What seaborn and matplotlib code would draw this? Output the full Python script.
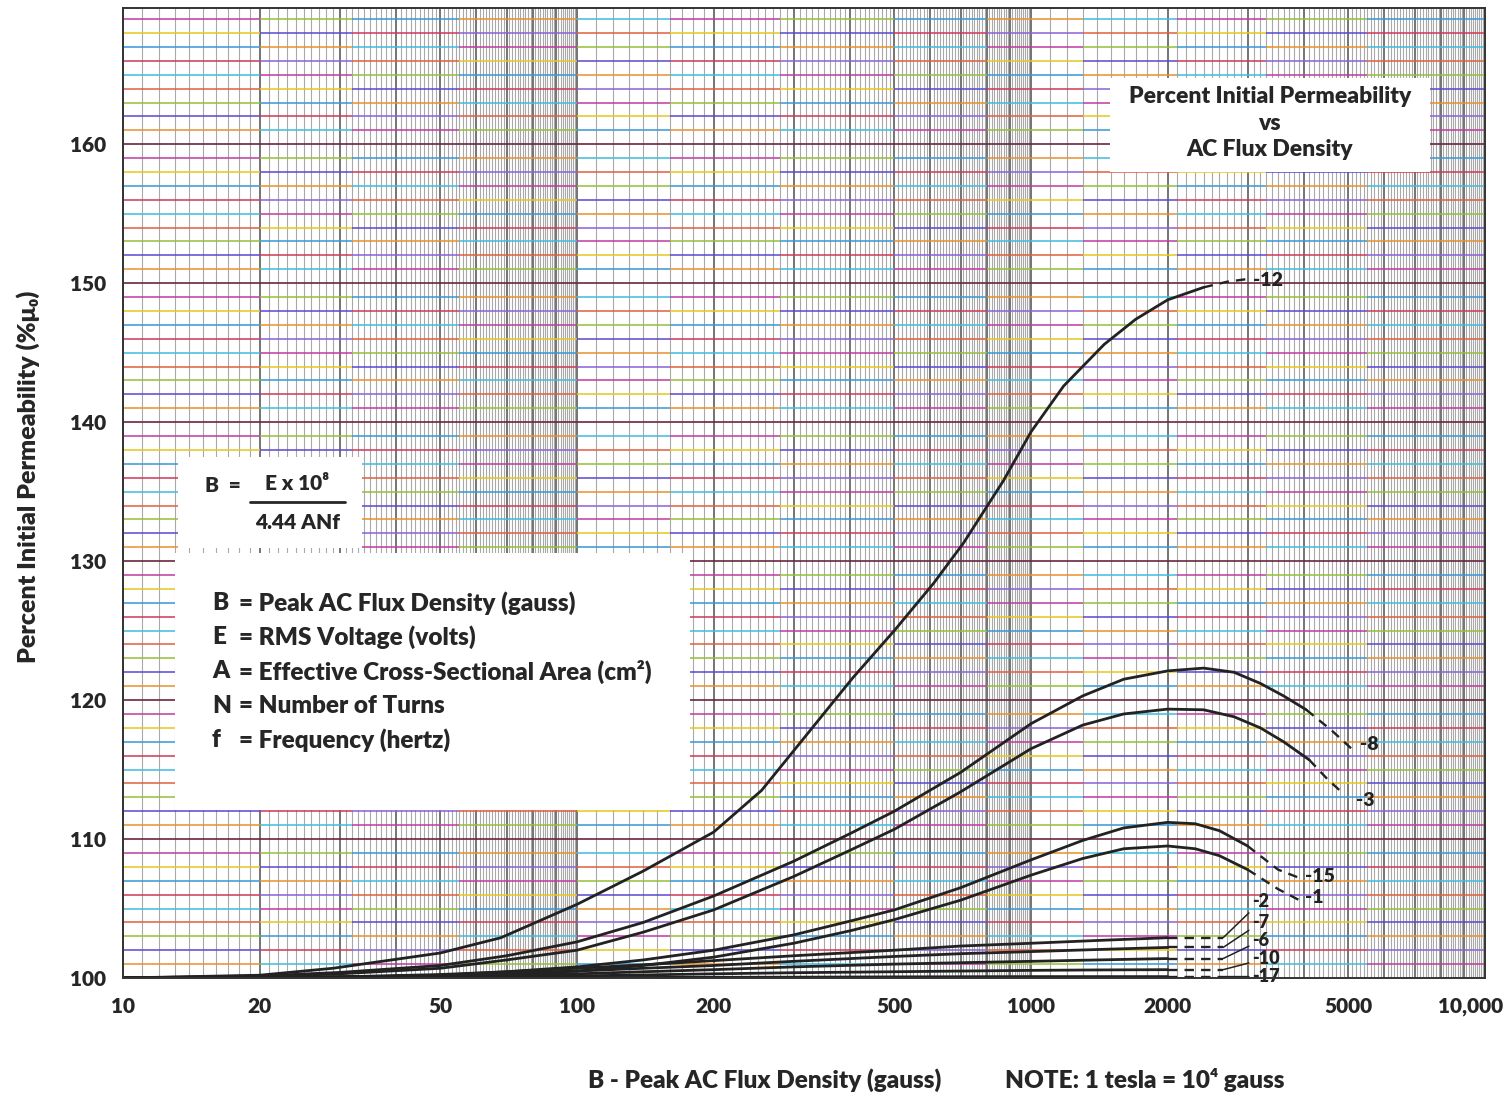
"""Percent initial permeability vs AC flux density (log graph paper style)."""

import matplotlib
matplotlib.use("Agg")
import matplotlib.pyplot as plt
import matplotlib.transforms as mtransforms
import numpy as np
import seaborn as sns
from matplotlib.patches import Rectangle
from matplotlib.ticker import FixedLocator, NullLocator

# ---- curve data (B in gauss, percent of initial permeability) ----
b_12 = [10, 20, 29, 50, 68, 100, 140, 200, 255, 315, 405, 500, 610, 710, 870, 1000,
        1180, 1450, 1700, 2000, 2400]
mu_12 = [100, 100.2, 100.7, 101.8, 102.9, 105.3, 107.7, 110.5, 113.5, 117.2, 121.6, 125,
         128.4, 131.3, 135.8, 139.3, 142.6, 145.6, 147.4, 148.8, 149.7]
b_12_dash = [2400, 2700, 3000]
mu_12_dash = [149.7, 150.1, 150.3]

b_8 = [10, 20, 30, 50, 70, 100, 140, 200, 300, 400, 500, 700, 1000, 1300, 1600, 2000,
       2400, 2800, 3200, 3600, 4040]
mu_8 = [100, 100.15, 100.4, 100.9, 101.6, 102.6, 104, 105.9, 108.4, 110.4, 112, 114.8,
        118.3, 120.3, 121.5, 122.1, 122.3, 122, 121.2, 120.3, 119.3]
b_8_dash = [4040, 4600, 5200]
mu_8_dash = [119.3, 117.8, 116.2]

b_3 = [10, 20, 30, 50, 70, 100, 140, 200, 300, 400, 500, 700, 1000, 1300, 1600, 2000,
       2400, 2800, 3200, 3600, 4100]
mu_3 = [100, 100.1, 100.3, 100.7, 101.3, 102, 103.3, 104.9, 107.3, 109.2, 110.7, 113.4,
        116.5, 118.2, 119, 119.35, 119.3, 118.8, 118, 117, 115.7]
b_3_dash = [4100, 4500, 4900]
mu_3_dash = [115.7, 114.3, 113.2]

b_15 = [10, 30, 50, 70, 100, 140, 200, 300, 400, 500, 700, 1000, 1300, 1600, 2000,
        2300, 2600, 3000]
mu_15 = [100, 100.05, 100.2, 100.45, 100.8, 101.3, 102, 103.1, 104.1, 104.9, 106.5,
         108.5, 109.9, 110.8, 111.2, 111.1, 110.6, 109.5]
b_15_dash = [3000, 3500, 3900]
mu_15_dash = [109.5, 107.8, 107.2]

b_1 = [10, 50, 100, 140, 200, 300, 400, 500, 700, 1000, 1300, 1600, 2000, 2300, 2600,
       3000]
mu_1 = [100, 100.15, 100.5, 100.9, 101.5, 102.5, 103.4, 104.2, 105.6, 107.4, 108.6,
        109.3, 109.5, 109.3, 108.8, 107.8]
b_1_dash = [3000, 3500, 3900]
mu_1_dash = [107.8, 106.4, 105.6]

b_low = [10, 20, 30, 50, 70, 100, 140, 200, 300, 500, 700, 1000, 1400, 2000]
mu_2 = [100, 100.02, 100.08, 100.25, 100.45, 100.7, 100.95, 101.25, 101.6, 102.0,
        102.3, 102.5, 102.7, 102.9]
mu_7 = [100, 100.01, 100.05, 100.18, 100.32, 100.5, 100.7, 100.9, 101.2, 101.55,
        101.75, 101.9, 102.05, 102.2]
mu_6 = [100, 100.0, 100.03, 100.1, 100.2, 100.3, 100.45, 100.6, 100.8, 101.0, 101.1,
        101.2, 101.3, 101.4]
mu_10 = [100, 100, 100.01, 100.04, 100.08, 100.15, 100.22, 100.3, 100.38, 100.45,
         100.5, 100.55, 100.58, 100.6]
mu_17 = [100, 100, 100, 100.01, 100.02, 100.03, 100.04, 100.05, 100.06, 100.08, 100.09,
         100.1, 100.1, 100.1]
b_low_dash = [2000, 2650]

# label anchors: (B, percent) for each curve label
label_at = {
    "-12": (3080, 150.2), "-8": (5300, 116.8), "-3": (5200, 112.8),
    "-15": (4020, 107.3), "-1": (4020, 105.8),
    "-2": (3070, 105.5), "-7": (3070, 104.0), "-6": (3070, 102.7),
    "-10": (3070, 101.4), "-17": (3070, 100.1),
}

x_ticks = [10, 20, 50, 100, 200, 500, 1000, 2000, 5000, 10000]
x_tick_labels = ["10", "20", "50", "100", "200", "500", "1000", "2000", "5000", "10,000"]
y_ticks = [100, 110, 120, 130, 140, 150, 160]

legend_rows = [
    ("B", "Peak AC Flux Density (gauss)"),
    ("E", "RMS Voltage (volts)"),
    ("A", "Effective Cross-Sectional Area (cm²)"),
    ("N", "Number of Turns"),
    ("f", "Frequency (hertz)"),
]

sns.set_theme(style="white")
plt.rcParams["font.family"] = ["Lato", "DejaVu Sans"]
W = "heavy"
TXT = "#262626"

fig = plt.figure(figsize=(15.11, 10.99), dpi=100)
ax = fig.add_axes([0.0814, 0.1101, 0.9014, 0.8826])
ax.set_xscale("log")
ax.set_xlim(10, 10000)
ax.set_ylim(100, 169.8)

# ---- graph paper: vertical log lines ----
for dec in [10, 100, 1000]:
    for k in range(10, 100):
        v = dec * k / 10
        if k % 10 == 0:
            ax.axvline(v, color="#333333", lw=1.2, alpha=0.8, zorder=1)
        else:
            ax.axvline(v, color="#555555", lw=0.8, alpha=0.5, zorder=1)

# ---- graph paper: coloured horizontal lines ----
paper_cols = ["#e8902c", "#e6c820", "#40bce0", "#5a48d0", "#c03aa0",
              "#d03858", "#94c03a", "#8a62d8", "#3898d8", "#e06040"]
seg_edges = [10, 20, 32, 55, 100, 160, 280, 500, 800, 1300, 2100, 3300, 5500, 10000]
for i, yv in enumerate(np.arange(101, 170)):
    if yv % 10 == 0:
        ax.axhline(yv, color="#6a2440", lw=1.4, alpha=0.85, zorder=1.2)
        continue
    for j in range(len(seg_edges) - 1):
        c = paper_cols[(i * 3 + j * 2) % len(paper_cols)]
        ax.hlines(yv, seg_edges[j], seg_edges[j + 1], color=c, lw=1.3, alpha=0.85,
                  zorder=1.1)

# ---- curves ----
ink = "#222222"
dash = (0, (4, 3))
solid = [(b_12, mu_12), (b_8, mu_8), (b_3, mu_3), (b_15, mu_15), (b_1, mu_1)]
for bs, ms in solid:
    sns.lineplot(x=bs, y=ms, ax=ax, color=ink, lw=2.0, sort=False, estimator=None,
                 zorder=5)
for bs, ms in [(b_12_dash, mu_12_dash), (b_8_dash, mu_8_dash), (b_3_dash, mu_3_dash),
               (b_15_dash, mu_15_dash), (b_1_dash, mu_1_dash)]:
    sns.lineplot(x=bs, y=ms, ax=ax, color=ink, lw=1.7, linestyle=dash, sort=False,
                 estimator=None, zorder=5)

low_curves = [("-2", mu_2), ("-7", mu_7), ("-6", mu_6), ("-10", mu_10), ("-17", mu_17)]
for name, ms in low_curves:
    sns.lineplot(x=b_low, y=ms, ax=ax, color=ink, lw=2.0, sort=False, estimator=None,
                 zorder=5)
    sns.lineplot(x=b_low_dash, y=[ms[-1], ms[-1]], ax=ax, color=ink, lw=1.7,
                 linestyle=dash, sort=False, estimator=None, zorder=5)
    lx, ly = label_at[name]
    ax.annotate(name, xy=(b_low_dash[-1], ms[-1]), xytext=(lx, ly), fontsize=13,
                fontweight=W, color=ink, va="center", ha="left", zorder=6,
                arrowprops=dict(arrowstyle="-", color=ink, lw=1.1, shrinkA=0,
                                shrinkB=0))

for name in ["-12", "-8", "-3", "-15", "-1"]:
    lx, ly = label_at[name]
    ax.text(lx, ly, name, fontsize=14, fontweight=W, color=ink, va="center",
            ha="left", zorder=6)


def white_box(x0, y0, w, h):
    ax.add_patch(Rectangle((x0, y0), w, h, transform=ax.transAxes,
                           facecolor="white", edgecolor="none", zorder=3))


# ---- title box ----
white_box(0.7247, 0.831, 0.2349, 0.097)
for txt, yy in [("Percent Initial Permeability", 0.909), ("vs", 0.881),
                ("AC Flux Density", 0.854)]:
    ax.text(0.842, yy, txt, transform=ax.transAxes, ha="center", va="center",
            fontsize=16.5, fontweight=W, color=TXT, zorder=4)

# ---- formula box ----
white_box(0.0404, 0.443, 0.135, 0.094)
ax.text(0.060, 0.508, "B  =", transform=ax.transAxes, ha="left", va="center",
        fontsize=15, fontweight=W, color=TXT, zorder=4)
ax.text(0.128, 0.510, "E x 10⁸", transform=ax.transAxes, ha="center", va="center",
        fontsize=15, fontweight=W, color=TXT, zorder=4)
ax.plot([0.093, 0.163], [0.491, 0.491], transform=ax.transAxes, color=TXT, lw=2.0,
        zorder=4)
ax.text(0.128, 0.470, "4.44 ANf", transform=ax.transAxes, ha="center", va="center",
        fontsize=15, fontweight=W, color=TXT, zorder=4)

# ---- definitions box ----
white_box(0.0382, 0.173, 0.378, 0.265)
for k, (sym, desc) in enumerate(legend_rows):
    yy = 0.3866 - k * 0.0353
    ax.text(0.0653, yy, sym, transform=ax.transAxes, ha="left", va="center",
            fontsize=17.5, fontweight=W, color=TXT, zorder=4)
    ax.text(0.0855, yy, "= " + desc, transform=ax.transAxes, ha="left", va="center",
            fontsize=17.5, fontweight=W, color=TXT, zorder=4)

# ---- axes styling ----
ax.xaxis.set_major_locator(FixedLocator(x_ticks))
ax.xaxis.set_minor_locator(NullLocator())
ax.set_xticklabels(x_tick_labels)
ax.set_yticks(y_ticks)
ax.tick_params(axis="x", direction="out", length=9, width=1.3, color="#333333",
               labelsize=15, pad=5)
ax.tick_params(axis="y", direction="out", length=7, width=1.3, color="#333333",
               labelsize=15, pad=5)
for lab in ax.get_xticklabels() + ax.get_yticklabels():
    lab.set_fontweight(W)
    lab.set_color(TXT)
# keep "10,000" inside the figure, as in the reference
last = ax.get_xticklabels()[-1]
last.set_transform(last.get_transform() +
                   mtransforms.ScaledTranslation(-14 / 100, 0, fig.dpi_scale_trans))
for sp in ax.spines.values():
    sp.set_color("#333333")
    sp.set_linewidth(1.4)
    sp.set_zorder(7)
ax.set_xlabel("")
ax.set_ylabel("")

fig.text(0.389, 0.0173, "B - Peak AC Flux Density (gauss)", ha="left", va="center",
         fontsize=17.5, fontweight=W, color=TXT)
fig.text(0.665, 0.0173, "NOTE: 1 tesla = 10⁴ gauss", ha="left", va="center",
         fontsize=17.5, fontweight=W, color=TXT)
fig.text(0.0185, 0.566, "Percent Initial Permeability (%μ₀)", rotation=90,
         ha="center", va="center", fontsize=18, fontweight=W, color=TXT)

fig.savefig("out.png", dpi=100, facecolor="white")
